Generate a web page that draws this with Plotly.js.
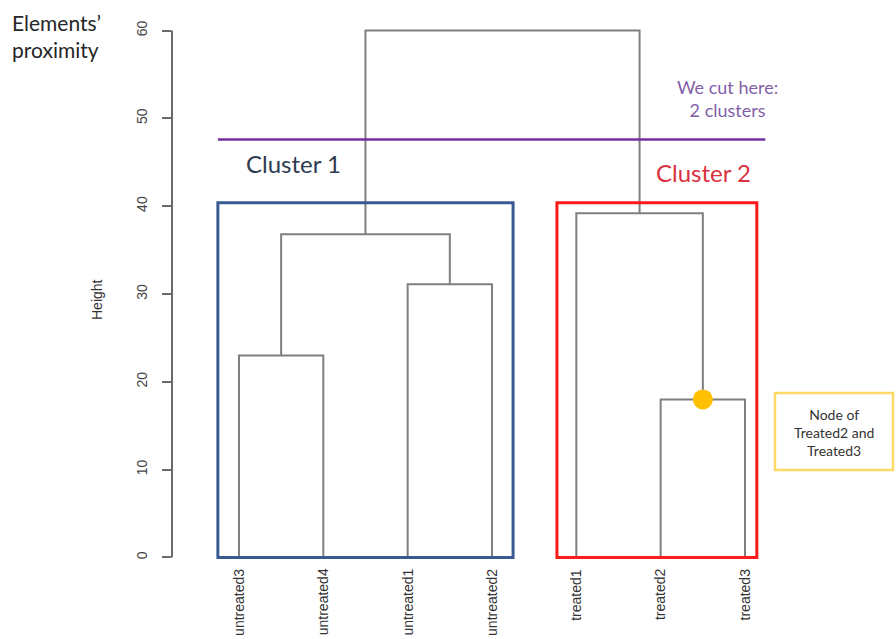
<!DOCTYPE html>
<html>
<head>
<meta charset="utf-8">
<script src="https://cdn.plot.ly/plotly-3.0.1.min.js"></script>
<style>html,body{margin:0;padding:0;background:#fff;}#chart{width:896px;height:639px;}</style>
</head>
<body>
<div id="chart"></div>
<script>
// Leaves in dendrogram order
const leafLabels = ['untreated3','untreated4','untreated1','untreated2','treated1','treated2','treated3'];
// Merges (R hclust style): negative = leaf index (1-based), positive = earlier merge index
const mergeLeft   = [-1, -3, -6, 1, -5, 4];
const mergeRight  = [-2, -4, -7, 2,  3, 5];
const mergeHeight = [23.0, 31.1, 18.0, 36.8, 39.2, 60.0];
// Cut height and highlighted node
const cutHeight = 47.6;
const highlightMerge = 3; // treated2 + treated3
// Y ticks
const yTicks = [0, 10, 20, 30, 40, 50, 60];

// Build dendrogram segments
const centers = [], heights = [];
function pos(ref){ return ref < 0 ? -ref : centers[ref-1]; }
function hgt(ref){ return ref < 0 ? 0 : heights[ref-1]; }
const lx = [], ly = [];
for (let i = 0; i < mergeHeight.length; i++) {
  const xl = pos(mergeLeft[i]), xr = pos(mergeRight[i]);
  const hl = hgt(mergeLeft[i]), hr = hgt(mergeRight[i]);
  const h = mergeHeight[i];
  lx.push(xl, xl, xr, xr, null);
  ly.push(hl, h, h, hr, null);
  centers.push((xl + xr) / 2);
  heights.push(h);
}

const traces = [
  {x: lx, y: ly, type: 'scatter', mode: 'lines', line: {color: '#7f7f7f', width: 2}, hoverinfo: 'skip', showlegend: false},
  {x: [centers[highlightMerge-1]], y: [heights[highlightMerge-1]], type: 'scatter', mode: 'markers',
   marker: {color: '#FFC000', size: 20}, showlegend: false}
];

// Cluster boxes computed from leaf extents
const cl1 = [1, 4], cl2 = [5, 7];
const boxTop = 40.4;
const shapes = [
  {type: 'line', xref: 'paper', yref: 'y', x0: 0, x1: 0, y0: yTicks[0], y1: yTicks[yTicks.length-1], line: {color: '#6a6a6a', width: 2}},
  {type: 'rect', xref: 'x', yref: 'y', x0: cl1[0]-0.25, x1: cl1[1]+0.25, y0: 0, y1: boxTop, line: {color: '#3A5A94', width: 3}},
  {type: 'rect', xref: 'x', yref: 'y', x0: cl2[0]-0.23, x1: cl2[1]+0.14, y0: 0, y1: boxTop, line: {color: '#FF1A1A', width: 3}},
  {type: 'line', xref: 'x', yref: 'y', x0: cl1[0]-0.25, x1: cl2[1]+0.24, y0: cutHeight, y1: cutHeight, line: {color: '#7030A0', width: 2.5}},
  {type: 'rect', xref: 'paper', yref: 'paper', x0: (775-172)/628, x1: (893-172)/628, y0: (575-470)/562, y1: (575-393)/562,
   line: {color: '#FFD966', width: 2.5}, fillcolor: 'rgba(0,0,0,0)'}
];

const annotations = leafLabels.map((lab, i) => ({
  x: i + 1, y: 0, xref: 'x', yref: 'y', text: lab, showarrow: false, textangle: -90,
  xanchor: 'center', yanchor: 'top', yshift: -9,
  font: {family: 'Liberation Sans, Arial, sans-serif', size: 14, color: '#333'}
}));
function note(px, py, text, font, extra){
  return Object.assign({xref: 'paper', yref: 'paper', x: (px-172)/628, y: (575-py)/562, text: text,
    showarrow: false, xanchor: 'center', yanchor: 'middle', font: font}, extra || {});
}
annotations.push(
  note(10, 8, "Elements’<br>proximity", {family: 'Lato, Open Sans, sans-serif', size: 21, color: '#262626'},
       {xanchor: 'left', yanchor: 'top', align: 'left'}),
  note(97, 300, 'Height', {family: 'Liberation Sans, Arial, sans-serif', size: 14, color: '#333'}, {textangle: -90}),
  note(727, 98, 'We cut here:<br>2 clusters', {family: 'Lato, Open Sans, sans-serif', size: 18, color: '#7F5FA8'}),
  note(293, 163, 'Cluster 1', {family: 'Lato, Open Sans, sans-serif', size: 24, color: '#2E3B50'}),
  note(703, 172, 'Cluster 2', {family: 'Lato, Open Sans, sans-serif', size: 24, color: '#D93240'}),
  note(834, 432, 'Node of<br>Treated2 and<br>Treated3', {family: 'Lato, Open Sans, sans-serif', size: 14, color: '#333'})
);

const layout = {
  width: 896, height: 639,
  margin: {l: 172, r: 96, t: 13, b: 64, pad: 0},
  paper_bgcolor: '#fff', plot_bgcolor: '#fff',
  showlegend: false,
  xaxis: {range: [0.206, 7.652], showgrid: false, zeroline: false, showline: false, showticklabels: false, ticks: ''},
  yaxis: {range: [-2, 62], showgrid: false, zeroline: false, showline: false, tickvals: yTicks, ticktext: yTicks.map(String),
          ticks: 'outside', ticklen: 9, tickwidth: 2, tickcolor: '#6a6a6a', tickangle: -90, ticklabelstandoff: 9,
          tickfont: {family: 'Liberation Sans, Arial, sans-serif', size: 14, color: '#444'}},
  shapes: shapes,
  annotations: annotations
};

Plotly.newPlot('chart', traces, layout, {displayModeBar: false, staticPlot: true});
</script>
</body>
</html>
